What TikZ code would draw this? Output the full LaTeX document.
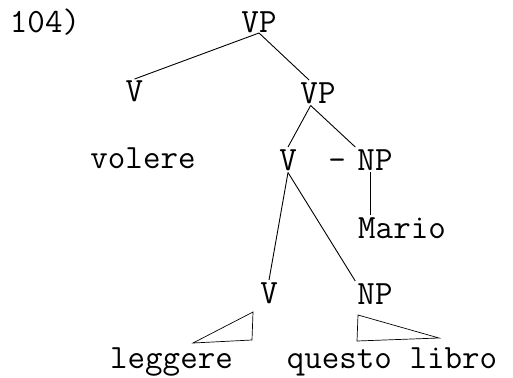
\documentclass[tikz,border=0pt]{standalone}
\usepackage{fontspec}
\usepackage{tikz}

\begin{document}
\begin{tikzpicture}[x = 1pt, y = -1pt,
		word/.style = {font = \ttfamily\fontsize{34}{34}\selectfont, inner sep = 2pt, anchor = base},
		branch/.style = {line width = 0.9pt},
		roof/.style = {line width = 0.7pt}]
		\useasboundingbox (0, 0) rectangle (513, 377);
		
		\node[word] (num) at (45, 33) {104)};
		\node[word] (vp1) at (259, 33) {VP};
		
		\node[word] (v1) at (134.5, 102) {V};
		\node[word] (vp2) at (318, 103) {VP};
		
		\node[word] (volere) at (143, 168) {volere};
		\node[word] (v2) at (288, 170) {V};
		\node[word] (dash) at (337, 170) {-};
		\node[word] (np1) at (375, 170) {NP};
		
		\node[word] (mario) at (402, 238) {Mario};
		
		\node[word] (v3) at (269, 303) {V};
		\node[word] (np2) at (375, 304) {NP};
		
		\node[word] (leggere) at (171.5, 368) {leggere};
		\node[word] (questo) at (392, 368) {questo libro};
		
		\draw[branch] (vp1.base) -- (v1.north);
		\draw[branch] (vp1.base) -- (vp2.125);
		
		\draw[branch] (vp2.240) -- (v2.north);
		\draw[branch] (vp2.240) -- (np1.north west);
		
		\draw[branch] (np1.250) -- (np1.250 |- mario.north);
		
		\draw[branch] (v2.south) -- (v3.north);
		\draw[branch] (v2.south) -- (np2.north west);
		
		\draw[roof] (253, 312) -- (193, 343) -- (252, 340) -- cycle;
		\draw[roof] (358, 315) -- (439, 338) -- (357, 341) -- cycle;
	\end{tikzpicture}
\end{document}
